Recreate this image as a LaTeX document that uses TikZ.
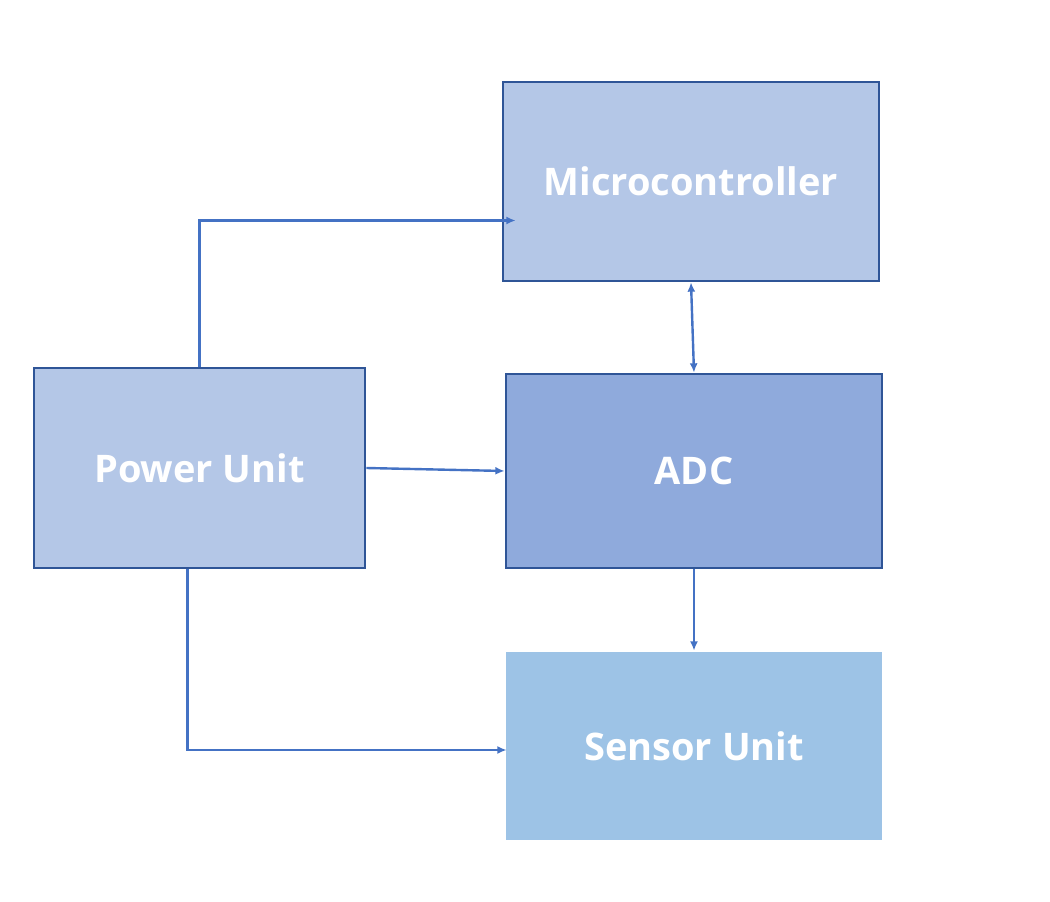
\documentclass[tikz,border=0pt]{standalone}
\usepackage{fontspec}
\setmainfont{Open Sans}
\usetikzlibrary{arrows.meta,calc}

\definecolor{boxlight}{HTML}{B4C7E7}
\definecolor{boxmid}{HTML}{8FAADC}
\definecolor{boxsky}{HTML}{9DC3E6}
\definecolor{boxedge}{HTML}{2F5597}
\definecolor{linkblue}{HTML}{4472C4}

\tikzset{every picture/.style={line width=0.75pt}}
\tikzset{
  unitbox/.style={draw=boxedge, line width=2pt, text=white, font=\bfseries\fontsize{28.5}{34}\selectfont, inner sep=0pt},
  link/.style={draw=linkblue, line width=1.8pt, -{Latex[length=7pt,width=6pt]}},
}

\begin{document}
\begin{tikzpicture}[x=0.75pt,y=0.75pt,yscale=-1,xscale=1]
        \useasboundingbox (0,0) rectangle (1050,902);

        %Shape: Rectangle [Microcontroller]
        \node[unitbox, fill=boxlight, minimum width=282pt, minimum height=149.25pt] (micro) at (691,181.5) {Microcontroller};
        %Shape: Rectangle [Power Unit]
        \node[unitbox, fill=boxlight, minimum width=248.25pt, minimum height=150pt] (power) at (199.5,468) {Power Unit};
        %Shape: Rectangle [ADC]
        \node[unitbox, fill=boxmid, minimum width=282pt, minimum height=145.5pt] (adc) at (694,471) {ADC};
        %Shape: Rectangle [Sensor Unit]
        \node[unitbox, draw=none, fill=boxsky, minimum width=282pt, minimum height=141pt] (sensor) at (694,746) {Sensor Unit};

        %Straight Lines [power to microcontroller]
        \draw[link] (power.north) |- ($(micro.west)+(14,39)$);
        %Straight Lines [microcontroller to adc]
        \draw[link, {Latex[length=7pt,width=6pt]}-{Latex[length=7pt,width=6pt]}] (micro.south) -- (adc.north);
        %Straight Lines [power to adc]
        \draw[link] (power.east) -- (adc.west);
        %Straight Lines [adc to sensor]
        \draw[link] (adc.south) -- (sensor.north);
        %Straight Lines [power to sensor]
        \draw[link] ($(power.south)+(-12,0)$) |- ($(sensor.west)+(2,4)$);

\end{tikzpicture}
\end{document}
